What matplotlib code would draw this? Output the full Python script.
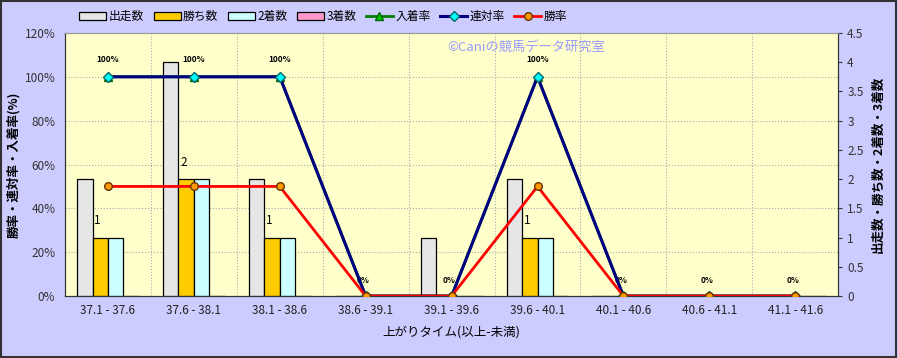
import numpy as np
import matplotlib.pyplot as plt
from matplotlib.patches import Rectangle

plt.rcParams['font.family'] = ['Noto Sans CJK JP', 'DejaVu Sans']

## data
categories = ["37.1 - 37.6", "37.6 - 38.1", "38.1 - 38.6", "38.6 - 39.1", "39.1 - 39.6",
              "39.6 - 40.1", "40.1 - 40.6", "40.6 - 41.1", "41.1 - 41.6"]
starts = [2, 4, 2, 0, 1, 2, 0, 0, 0]
wins = [1, 2, 1, 0, 0, 1, 0, 0, 0]
seconds = [1, 2, 1, 0, 0, 1, 0, 0, 0]
thirds = [0, 0, 0, 0, 0, 0, 0, 0, 0]
place_rate = [100, 100, 100, 0, 0, 100, 0, 0, 0]
rentai_rate = [100, 100, 100, 0, 0, 100, 0, 0, 0]
win_rate = [50, 50, 50, 0, 0, 50, 0, 0, 0]

bg = "#CCCCFF"
fig = plt.figure(figsize=(8.98, 3.58), dpi=100, facecolor=bg)
fig.patches.append(Rectangle((0.001, 0.002), 0.997, 0.995, transform=fig.transFigure,
                             fill=False, edgecolor="#333333", linewidth=1.5))
ax2 = fig.add_axes([0.0724, 0.173, 0.861, 0.735])  # counts (right)
ax = ax2.twinx()  # rates (left) drawn on top
ax2.set_facecolor("#FFFFCC")

x = np.arange(len(categories))
w = 0.18
bar_specs = [(starts, "#E6E6E6", "出走数"), (wins, "#FFCC00", "勝ち数"),
             (seconds, "#CCFFFF", "2着数"), (thirds, "#FF99CC", "3着数")]
handles = []
for i, (vals, col, lab) in enumerate(bar_specs):
    b = ax2.bar(x + (i - 1.5) * w, vals, w, color=col, edgecolor="black", linewidth=0.9,
                label=lab, zorder=3)
    handles.append(b)

for xi, v in zip(x, wins):
    if v > 0:
        ax2.text(xi - 0.5 * w - 0.03, v + 0.18, str(v), ha="center", va="bottom", fontsize=8.5)

ax2.set_ylim(0, 4.5)
ax2.set_yticks(np.arange(0, 4.51, 0.5))
ax2.set_yticklabels(["0", "0.5", "1", "1.5", "2", "2.5", "3", "3.5", "4", "4.5"])
ax2.yaxis.tick_right()
ax2.yaxis.set_label_position("right")
ax2.set_ylabel("出走数・勝ち数・2着数・3着数", fontsize=9, fontweight="bold", labelpad=6)
ax2.set_xlim(-0.5, len(categories) - 0.5)
ax2.set_xticks(x)
ax2.set_xticklabels(categories, fontsize=8.5, color="#222222")
ax2.tick_params(axis="x", length=0, pad=6)
ax2.tick_params(axis="y", labelsize=8.5, colors="#333333", direction="out", length=3)
for xb in np.arange(0.5, len(categories) - 0.5, 1):
    ax2.axvline(xb, color="#AAAAAA", linestyle=":", linewidth=0.8, zorder=1)
for yg in np.arange(0.75, 4.5, 0.75):
    ax2.axhline(yg, color="#AAAAAA", linestyle=":", linewidth=0.8, zorder=1)
ax2.set_xlabel("上がりタイム(以上-未満)", fontsize=9, labelpad=6)

l1, = ax.plot(x, place_rate, color="green", linewidth=2, marker="^", markersize=6,
              markerfacecolor="#00CC00", markeredgecolor="#006600", label="入着率", zorder=4)
l2, = ax.plot(x, rentai_rate, color="#000080", linewidth=2.2, marker="D", markersize=5,
              markerfacecolor="#00FFFF", markeredgecolor="#006666", label="連対率", zorder=5)
l3, = ax.plot(x, win_rate, color="#FF0000", linewidth=2, marker="o", markersize=5.5,
              markerfacecolor="#FF9900", markeredgecolor="#663300", label="勝率", zorder=6)
for xi, v in zip(x, rentai_rate):
    if v > 0:
        ax.text(xi, v + 8, "%d%%" % v, ha="center", va="center", fontsize=6, fontweight="bold")
    else:
        ax.text(xi - 0.03, v + 7, "0%", ha="center", va="center", fontsize=6, fontweight="bold")

ax.set_ylim(0, 120)
ax.set_yticks(np.arange(0, 121, 20))
ax.set_yticklabels(["%d%%" % t for t in range(0, 121, 20)])
ax.yaxis.tick_left()
ax.yaxis.set_label_position("left")
ax.set_ylabel("勝率・連対率・入着率(%)", fontsize=9, fontweight="bold", labelpad=3)
ax.tick_params(axis="y", labelsize=8.5, colors="#333333", length=0, pad=7)
for a in (ax, ax2):
    a.spines["top"].set_color("#999999")
    a.spines["left"].set_color("#333333")
    a.spines["right"].set_color("#333333")
    a.spines["bottom"].set_color("#333333")

ax.text(0.597, 0.945, "©Caniの競馬データ研究室", transform=ax.transAxes, ha="center",
        va="center", fontsize=9.5, color="#9999FF")

fig.legend(handles + [l1, l2, l3], [h.get_label() for h in handles + [l1, l2, l3]],
           loc="center", bbox_to_anchor=(0.36, 0.953), ncol=7, frameon=False,
           fontsize=8.5, handlelength=2.3, handletextpad=0.2, columnspacing=0.8)

fig.savefig("out.png", dpi=100, facecolor=bg)
